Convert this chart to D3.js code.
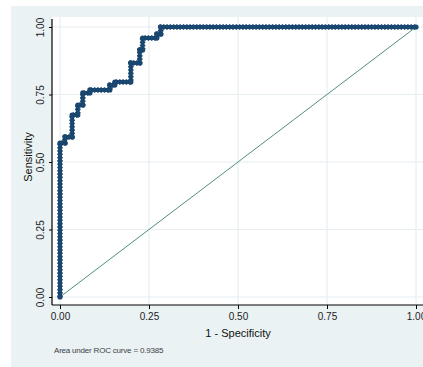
<!DOCTYPE html>
<html>
<head>
<meta charset="utf-8">
<script src="https://cdn.jsdelivr.net/npm/d3@7"></script>
<style>
  html, body { margin: 0; padding: 0; background: #ffffff; }
  svg { display: block; }
</style>
</head>
<body>
<svg id="chart" width="423" height="367"></svg>
<script>
// ---- data ----
const specComplement = [0, 0, 0.014, 0.014, 0.034, 0.034, 0.050, 0.050, 0.064, 0.064, 0.084, 0.084, 0.140, 0.140, 0.154, 0.154, 0.199, 0.199, 0.224, 0.224, 0.232, 0.232, 0.272, 0.272, 0.283, 0.283, 1.0];
const sensitivity    = [0, 0.570, 0.570, 0.593, 0.593, 0.674, 0.674, 0.711, 0.711, 0.756, 0.756, 0.767, 0.767, 0.785, 0.785, 0.796, 0.796, 0.867, 0.867, 0.915, 0.915, 0.959, 0.959, 0.974, 0.974, 1.0, 1.0];
const refLine = [0, 1];
const xTicks = [0, 0.25, 0.5, 0.75, 1];
const yTicks = [0, 0.25, 0.5, 0.75, 1];
const xTitle = "1 - Specificity";
const yTitle = "Sensitivity";
const note = "Area under ROC curve = 0.9385";

const pts = specComplement.map((x, i) => ({x: x, y: sensitivity[i]}));

const svg = d3.select("#chart");
const W = 423, H = 367;

// outer (graph) region
svg.append("rect").attr("x", 11).attr("y", 6).attr("width", W - 11).attr("height", H - 6)
  .attr("fill", "#eaf2f3");

// plot region
const plot = {left: 52, top: 17, right: 423, bottom: 305};
svg.append("rect").attr("x", plot.left).attr("y", plot.top)
  .attr("width", plot.right - plot.left).attr("height", plot.bottom - plot.top)
  .attr("fill", "#ffffff");

const x = d3.scaleLinear().domain([0, 1]).range([60, 416]);
const y = d3.scaleLinear().domain([0, 1]).range([297, 27]);

// grid lines
svg.append("g").selectAll("line.vg").data(xTicks).join("line")
  .attr("x1", d => x(d)).attr("x2", d => x(d))
  .attr("y1", plot.top).attr("y2", plot.bottom)
  .attr("stroke", "#e6eef1").attr("stroke-width", 1.2);
svg.append("g").selectAll("line.hg").data(yTicks).join("line")
  .attr("x1", plot.left).attr("x2", plot.right)
  .attr("y1", d => y(d)).attr("y2", d => y(d))
  .attr("stroke", "#e6eef1").attr("stroke-width", 1.2);

// reference diagonal
svg.append("line")
  .attr("x1", x(refLine[0])).attr("y1", y(refLine[0]))
  .attr("x2", x(refLine[1])).attr("y2", y(refLine[1]))
  .attr("stroke", "#4f8f80").attr("stroke-width", 1);

// ROC curve
const line = d3.line().x(d => x(d.x)).y(d => y(d.y));
const navy = "#1a476f";
svg.append("path").datum(pts).attr("d", line)
  .attr("fill", "none").attr("stroke", navy).attr("stroke-width", 4)
  .attr("stroke-linejoin", "round").attr("stroke-linecap", "round");
svg.append("path").datum(pts).attr("d", line)
  .attr("fill", "none").attr("stroke", navy).attr("stroke-width", 5.5)
  .attr("stroke-dasharray", "1.6,1.7")
  .attr("stroke-linejoin", "round");
svg.append("g").selectAll("circle").data(pts).join("circle")
  .attr("cx", d => x(d.x)).attr("cy", d => y(d.y)).attr("r", 2.6)
  .attr("fill", navy);

// axes
const font = "'Liberation Sans', Arial, sans-serif";
const xAxis = d3.axisBottom(x).tickValues(xTicks).tickFormat(d3.format(".2f"))
  .tickSize(4).tickPadding(4);
const gx = svg.append("g").attr("transform", `translate(0,${plot.bottom})`).call(xAxis);
gx.select(".domain").remove();
gx.append("line").attr("x1", plot.left).attr("x2", plot.right).attr("y1", 0).attr("y2", 0)
  .attr("stroke", "#000").attr("stroke-width", 1.2);
gx.selectAll(".tick line").attr("stroke", "#000");
gx.selectAll(".tick text").attr("font-family", font).attr("font-size", 10)
  .attr("fill", "#222").attr("dy", "0.72em");

const yAxis = d3.axisLeft(y).tickValues(yTicks).tickFormat(d3.format(".2f"))
  .tickSize(3).tickPadding(8);
const gy = svg.append("g").attr("transform", `translate(${plot.left},0)`).call(yAxis);
gy.select(".domain").remove();
gy.append("line").attr("x1", 0).attr("x2", 0).attr("y1", 19).attr("y2", plot.bottom)
  .attr("stroke", "#000").attr("stroke-width", 1.2);
gy.selectAll(".tick line").attr("stroke", "#000");
gy.selectAll(".tick text")
  .attr("font-family", font).attr("font-size", 10).attr("fill", "#222")
  .attr("x", null).attr("dy", null)
  .attr("text-anchor", "middle")
  .attr("transform", "translate(-8,0) rotate(-90)");

// titles
svg.append("text").attr("x", 238).attr("y", 337)
  .attr("text-anchor", "middle").attr("font-family", font).attr("font-size", 11)
  .attr("fill", "#111").text(xTitle);
svg.append("text").attr("transform", "translate(32,157) rotate(-90)")
  .attr("text-anchor", "middle").attr("font-family", font).attr("font-size", 11)
  .attr("fill", "#111").text(yTitle);

// note
svg.append("text").attr("x", 54).attr("y", 353)
  .attr("font-family", font).attr("font-size", 8)
  .attr("fill", "#3a3f48").attr("letter-spacing", -0.2).text(note);
</script>
</body>
</html>
